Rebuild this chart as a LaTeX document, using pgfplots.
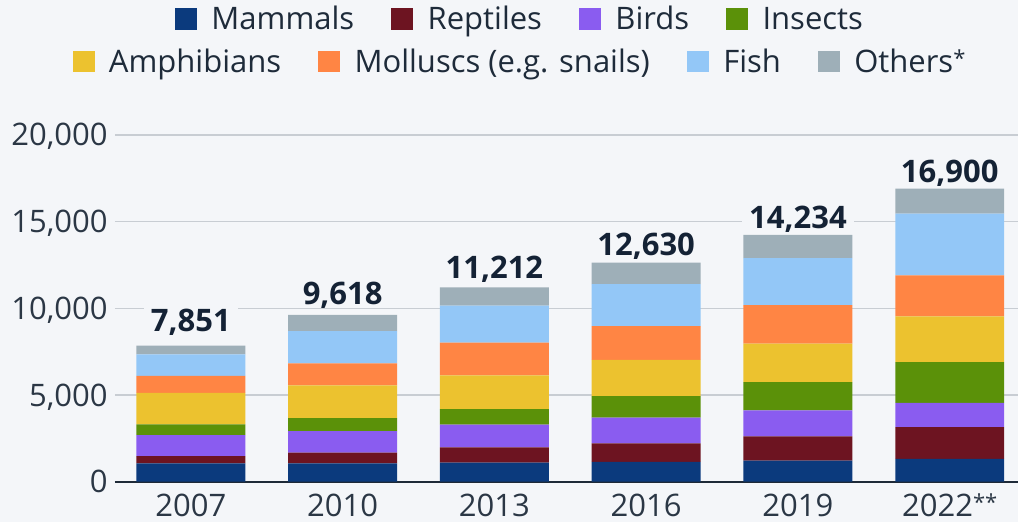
\documentclass[border=0pt]{standalone}
\usepackage{fontspec}
\setmainfont{Open Sans}
\usepackage{pgfplots}
\pgfplotsset{compat=1.18}
\usepackage{pgfplotstable}

\definecolor{bg}{HTML}{F4F6F9}
\definecolor{cM}{HTML}{0B3A7D}
\definecolor{cR}{HTML}{6D1421}
\definecolor{cB}{HTML}{8A5CF0}
\definecolor{cI}{HTML}{5B9109}
\definecolor{cA}{HTML}{ECC22F}
\definecolor{cMo}{HTML}{FF8544}
\definecolor{cF}{HTML}{93C7F7}
\definecolor{cO}{HTML}{9EAFB8}
\definecolor{gridcol}{HTML}{C8CDD3}
\definecolor{axcol}{HTML}{1E2A38}
\definecolor{tickcol}{HTML}{2B3745}
\definecolor{valcol}{HTML}{142235}
\definecolor{legcol}{HTML}{1E2B3A}

\newcommand{\smallast}[1]{\raisebox{3pt}{\fontsize{11}{11}\selectfont #1}}

\pgfplotstableread{
x M R B I A Mo F O total
0 1060 420 1210 620 1820 970 1250 501 7851
1 1060 610 1250 740 1900 1270 1860 928 9618
2 1100 880 1310 890 1960 1880 2130 1062 11212
3 1150 1060 1480 1250 2080 1960 2420 1230 12630
4 1220 1400 1490 1640 2210 2230 2710 1334 14234
5 1310 1840 1390 2360 2630 2370 3560 1440 16900
}\data

\pgfplotsset{
  sq/.style={draw=none, legend image code/.code={\fill[##1] (0pt,0pt) rectangle (11pt,10.8pt);}},
  commonaxis/.style={
    at={(0,0)}, anchor=south west,
    width=451.5pt, height=173.35pt, scale only axis,
    xmin=-0.5, xmax=5.45, ymin=0, ymax=20000,
  },
  commonlegend/.style={
    draw=none, fill=none, inner sep=0pt, outer sep=0pt,
    font=\fontsize{15.5}{18}\selectfont, text=legcol,
    /tikz/every odd column/.style={column sep=7.2pt},
    /tikz/every even column/.style={column sep=18.5pt},
    cells={anchor=base west},
    nodes={inner sep=0pt, text height=11pt, text depth=4pt},
  },
}

\begin{document}
\begin{tikzpicture}
\useasboundingbox (-57.5pt,-20.15pt) rectangle (451.5pt,240.85pt);
\fill[bg] (-57.5pt,-20.15pt) rectangle (451.5pt,240.85pt);
\begin{axis}[
  commonaxis,
  ybar stacked, bar width=0.7176,
  xtick={0,1,2,3,4,5}, xticklabels={2007,2010,2013,2016,2019,2022\smallast{**}},
  ytick={0,5000,10000,15000,20000},
  ymajorgrids, major grid style={color=gridcol, line width=0.6pt},
  major tick length=0pt, tick style={draw=none},
  axis line style={draw=none},
  scaled y ticks=false,
  /pgf/number format/.cd, 1000 sep={,}, assume math mode=true, /pgfplots/.cd,
  tick label style={font=\fontsize{15.5}{18}\selectfont, text=tickcol},
  yticklabel style={anchor=east, inner sep=0pt, xshift=-3.5pt, text height=11pt, text depth=0pt},
  xticklabel style={anchor=base, inner sep=0pt, yshift=-17.35pt},
  legend style={commonlegend, at={(axis description cs:0.4474,1.2798)}, anchor=south},
  legend columns=4,
  clip=false,
]
\addplot[fill=cM, sq] table[x=x,y=M]{\data};
\addlegendentry{Mammals}
\addplot[fill=cR, sq] table[x=x,y=R]{\data};
\addlegendentry{Reptiles}
\addplot[fill=cB, sq] table[x=x,y=B]{\data};
\addlegendentry{Birds}
\addplot[fill=cI, sq] table[x=x,y=I]{\data};
\addlegendentry{Insects}
\addplot[fill=cA, sq] table[x=x,y=A]{\data};
\addplot[fill=cMo, sq] table[x=x,y=Mo]{\data};
\addplot[fill=cF, sq] table[x=x,y=F]{\data};
\addplot[fill=cO, sq, point meta=explicit,
  nodes near coords={\pgfmathprintnumber{\pgfplotspointmeta}},
  nodes near coords style={anchor=south, yshift=8pt,
    font=\bfseries\fontsize{15.5}{18}\selectfont, text=valcol,
    fill=bg, inner xsep=3.5pt, inner ysep=1pt, text height=11.5pt, text depth=0pt}]
  table[x=x,y=O,meta=total]{\data};
\draw[axcol, line width=1pt] (rel axis cs:0,0) -- (rel axis cs:1,0);
\end{axis}
\begin{axis}[
  commonaxis, hide axis,
  legend style={commonlegend, at={(axis description cs:0.4474,1.1578)}, anchor=south},
  legend columns=4,
]
\addlegendimage{fill=cA, sq}\addlegendentry{Amphibians}
\addlegendimage{fill=cMo, sq}\addlegendentry{Molluscs (e.g. snails)}
\addlegendimage{fill=cF, sq}\addlegendentry{Fish}
\addlegendimage{fill=cO, sq}\addlegendentry{Others\smallast{*}}
\end{axis}
\end{tikzpicture}
\end{document}
